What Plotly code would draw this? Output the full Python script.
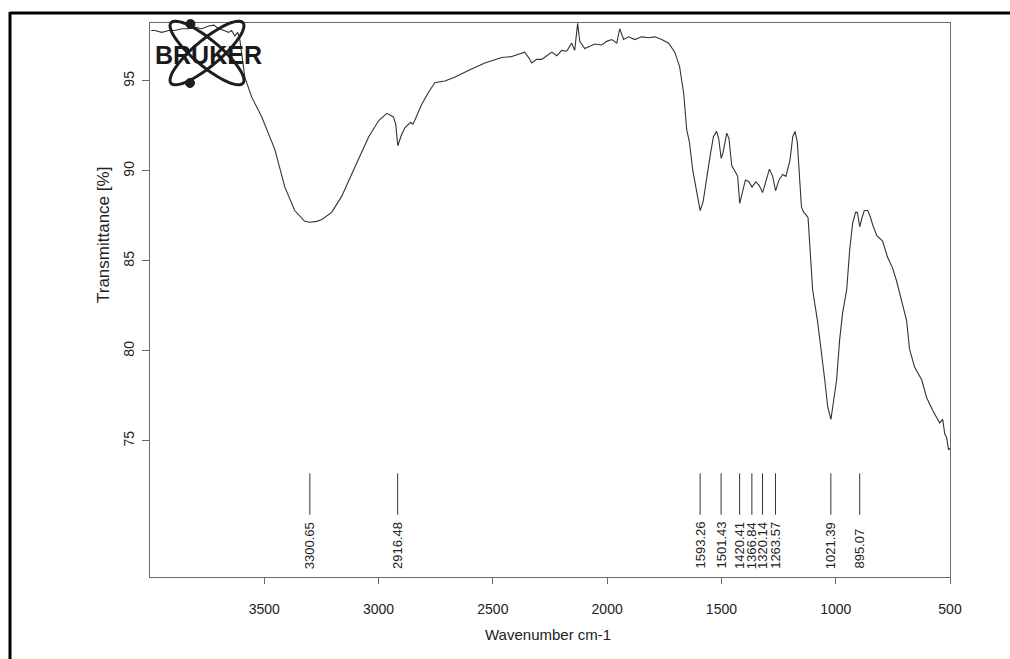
import numpy as np
import plotly.graph_objects as go

# ---------------- data ----------------
wavenumber = [
    3995, 3979, 3948, 3918, 3892, 3861, 3831, 3804, 3774, 3743, 3721, 3699, 3677, 3656, 3643, 3629, 3616, 3607,
    3585, 3555, 3511, 3454, 3410, 3367, 3323, 3300, 3270, 3248, 3205, 3161, 3104, 3043, 2999, 2964, 2935, 2925,
    2916, 2900, 2885, 2860, 2850, 2842, 2811, 2780, 2754, 2710, 2667, 2605, 2535, 2461, 2420, 2387, 2361, 2343,
    2330, 2308, 2286, 2264, 2242, 2220, 2199, 2177, 2155, 2142, 2129, 2120, 2098, 2080, 2054, 2024, 2002, 1980,
    1958, 1945, 1928, 1906, 1879, 1849, 1818, 1792, 1761, 1731, 1704, 1683, 1665, 1652, 1640, 1625, 1610, 1593,
    1580, 1565, 1550, 1535, 1521, 1512, 1501, 1493, 1477, 1467, 1455, 1437, 1429, 1420, 1408, 1395, 1380, 1366,
    1350, 1335, 1320, 1305, 1290, 1276, 1263, 1248, 1232, 1218, 1200, 1188, 1178, 1168, 1156, 1150, 1140, 1132,
    1121, 1114, 1101, 1079, 1061, 1048, 1035, 1021, 1013, 996, 983, 970, 952, 939, 926, 913, 905, 895, 885, 875,
    860, 850, 838, 820, 795, 773, 751, 734, 712, 690, 677, 655, 624, 602, 576, 558, 545, 532, 523, 515, 506, 500,
]
transmittance = [
    97.8, 97.8, 97.7, 97.8, 97.8, 97.9, 97.9, 98.0, 97.9, 98.05, 98.1, 97.9, 97.8, 97.7, 97.8, 97.5, 97.7, 97.3,
    95.2, 94.1, 93.0, 91.2, 89.1, 87.8, 87.2, 87.15, 87.2, 87.3, 87.7, 88.6, 90.2, 91.9, 92.8, 93.2, 93.0, 92.6,
    91.4, 92.0, 92.4, 92.7, 92.6, 92.8, 93.7, 94.4, 94.9, 95.0, 95.2, 95.6, 96.0, 96.3, 96.35, 96.5, 96.6, 96.3,
    96.0, 96.2, 96.2, 96.4, 96.6, 96.4, 96.7, 96.65, 97.1, 96.7, 98.2, 97.2, 96.8, 96.9, 97.05, 97.0, 97.2, 97.3,
    97.1, 97.9, 97.3, 97.45, 97.3, 97.45, 97.4, 97.45, 97.3, 97.1, 96.6, 95.8, 94.3, 92.3, 91.6, 90.0, 88.9, 87.8,
    88.3, 89.7, 90.8, 91.9, 92.2, 91.8, 90.7, 91.0, 92.1, 91.8, 90.3, 89.9, 89.7, 88.2, 88.8, 89.5, 89.4, 89.1,
    89.4, 89.2, 88.8, 89.4, 90.1, 89.7, 88.9, 89.5, 89.8, 89.7, 90.6, 91.9, 92.2, 91.6, 89.3, 88.0, 87.7, 87.6,
    87.4, 85.8, 83.4, 81.6, 79.9, 78.4, 76.9, 76.2, 76.9, 78.4, 80.6, 82.1, 83.4, 85.6, 87.1, 87.7, 87.7, 86.9,
    87.4, 87.8, 87.8, 87.5, 87.0, 86.4, 86.1, 85.2, 84.6, 83.9, 82.8, 81.7, 80.1, 79.1, 78.4, 77.4, 76.7, 76.3,
    76.0, 76.2, 75.4, 75.2, 74.5, 74.6,
]
peak_positions = [3300.65, 2916.48, 1593.26, 1501.43, 1420.41, 1366.84, 1320.14, 1263.57, 1021.39, 895.07]
peak_labels = ["3300.65", "2916.48", "1593.26", "1501.43", "1420.41", "1366.84", "1320.14", "1263.57", "1021.39", "895.07"]
x_ticks = [3500, 3000, 2500, 2000, 1500, 1000, 500]
y_ticks = [75, 80, 85, 90, 95]

# ---------------- geometry helpers (pixel -> paper) ----------------
W, H = 1010, 659
L, R, T, B = 150, 60, 23, 82
PW, PH = W - L - R, H - T - B


def px(x):
    return (x - L) / PW


def py(y):
    return (H - B - y) / PH


FONT = "Liberation Sans, Arial, sans-serif"
INK = "#222222"

fig = go.Figure()
fig.add_trace(go.Scatter(x=wavenumber, y=transmittance, mode="lines",
                         line=dict(color="#333333", width=1.1), hoverinfo="skip", showlegend=False))

shapes = []
annotations = []

# peak marker lines and labels
for pos, lab in zip(peak_positions, peak_labels):
    shapes.append(dict(type="line", xref="x", yref="y", x0=pos, x1=pos, y0=70.9, y1=73.2,
                       line=dict(color="#333333", width=1)))
    annotations.append(dict(x=pos, y=67.78, xref="x", yref="y", text=lab, showarrow=False,
                            textangle=-90, xanchor="center", yanchor="bottom",
                            font=dict(family=FONT, size=13, color=INK)))

# axis titles
annotations.append(dict(x=px(103), y=py(235), xref="paper", yref="paper", text="Transmittance [%]",
                        showarrow=False, textangle=-90, xanchor="center", yanchor="middle",
                        font=dict(family=FONT, size=17, color=INK)))
annotations.append(dict(x=px(548), y=py(634), xref="paper", yref="paper", text="Wavenumber cm-1",
                        showarrow=False, xanchor="center", yanchor="middle",
                        font=dict(family=FONT, size=15, color=INK)))

# page border of the scan
shapes.append(dict(type="line", xref="paper", yref="paper", x0=px(10), x1=px(1012), y0=py(13), y1=py(13),
                   line=dict(color="black", width=3)))
shapes.append(dict(type="line", xref="paper", yref="paper", x0=px(10), x1=px(10), y0=py(12), y1=py(662),
                   line=dict(color="black", width=3)))

# BRUKER logo: two crossed orbits with two electrons
cx, cy, a, b = 207, 53, 47, 13
t = np.linspace(0, 2 * np.pi, 73)
for th in (np.deg2rad(40), np.deg2rad(-40)):
    ex = cx + a * np.cos(t) * np.cos(th) - b * np.sin(t) * np.sin(th)
    ey = cy + a * np.cos(t) * np.sin(th) + b * np.sin(t) * np.cos(th)
    path = "M " + " L ".join(f"{px(u):.5f},{py(v):.5f}" for u, v in zip(ex, ey)) + " Z"
    shapes.append(dict(type="path", xref="paper", yref="paper", path=path,
                       line=dict(color="#1e1e1e", width=3)))
for (dx, dy) in ((190.5, 24), (190, 83)):
    shapes.append(dict(type="circle", xref="paper", yref="paper", x0=px(dx - 4.5), x1=px(dx + 4.5),
                       y0=py(dy + 4.5), y1=py(dy - 4.5), fillcolor="#1e1e1e", line=dict(color="#1e1e1e", width=1)))
annotations.append(dict(x=px(208), y=py(55), xref="paper", yref="paper", text="<b>BRUKER</b>",
                        showarrow=False, xanchor="center", yanchor="middle",
                        font=dict(family=FONT, size=25, color="#1a1a1a")))

fig.update_layout(
    width=W, height=H,
    margin=dict(l=L, r=R, t=T, b=B, pad=0),
    paper_bgcolor="white", plot_bgcolor="white",
    shapes=shapes, annotations=annotations,
    showlegend=False,
    xaxis=dict(range=[4000, 500], tickvals=x_ticks, ticktext=[str(v) for v in x_ticks],
               ticks="outside", ticklen=6, tickcolor="#666666", showline=True, mirror=True,
               linecolor="#6a6a6a", linewidth=1, showgrid=False, zeroline=False, ticklabelstandoff=13,
               tickfont=dict(family=FONT, size=14, color=INK)),
    yaxis=dict(range=[67.44, 98.22], tickvals=y_ticks, ticktext=[str(v) for v in y_ticks],
               tickangle=-90, ticks="outside", ticklen=7, tickcolor="#666666", showline=True, mirror=True,
               linecolor="#6a6a6a", linewidth=1, showgrid=False, zeroline=False, ticklabelstandoff=2,
               tickfont=dict(family=FONT, size=14, color=INK)),
)

fig.write_html("out.html")
